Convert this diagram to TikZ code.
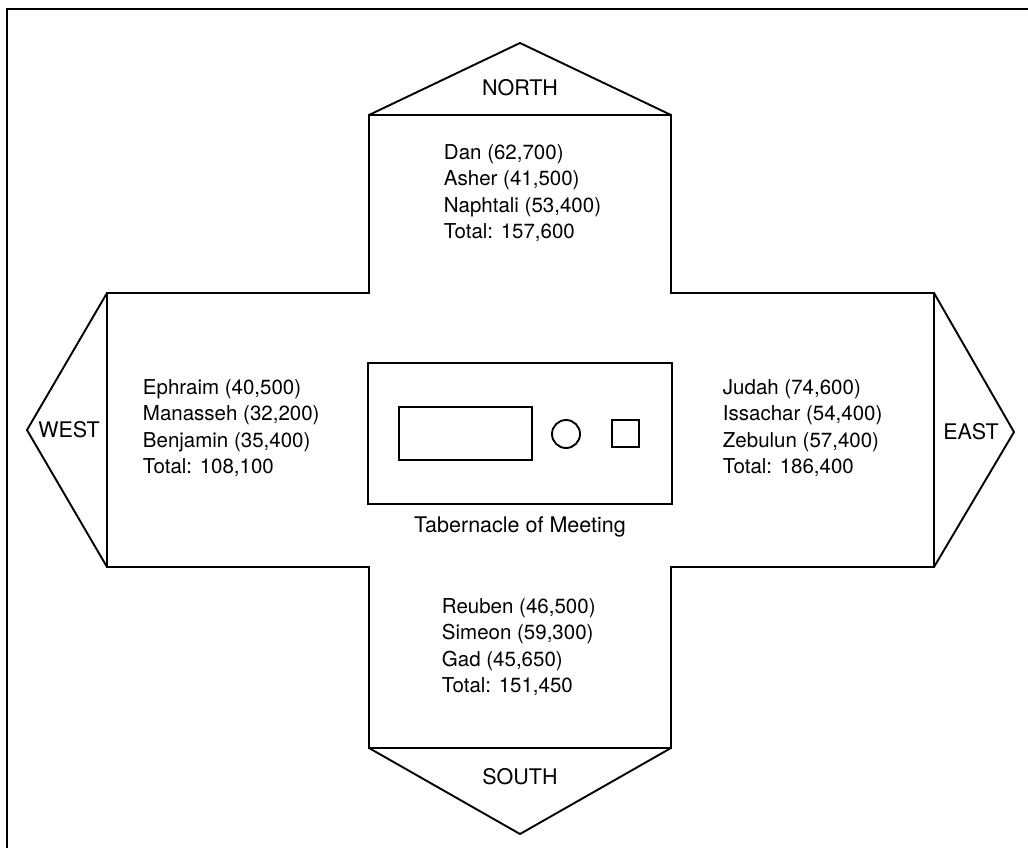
\documentclass[tikz,border=0pt]{standalone}
\usepackage{fontspec}
\setmainfont{TeX Gyre Heros}
\begin{document}
\begin{tikzpicture}[x=1pt,y=-1pt,line width=1.9pt,line join=miter,
  lbl/.style={inner sep=0pt,font=\fontsize{21.5}{26.5}\selectfont},
  tribe/.style={inner sep=0pt,font=\fontsize{20.5}{26.5}\selectfont,align=left,anchor=west}]
\useasboundingbox (0,0) rectangle (1028,848);
% frame (only top and left edges visible)
\draw (7,848) -- (7,9) -- (1028,9);
% cross outline
\coordinate (nw) at (369,115); \coordinate (ne) at (671,115);
\coordinate (en) at (934,293); \coordinate (es) at (934,567);
\coordinate (sw) at (369,748); \coordinate (se) at (671,748);
\coordinate (wn) at (107,293); \coordinate (ws) at (107,567);
\coordinate (napex) at (520,43); \coordinate (sapex) at (520,834);
\coordinate (wapex) at (27,430); \coordinate (eapex) at (1014,432);
\draw (nw) -- (ne) -- (ne |- en) -- (en) -- (es) -- (se |- es) -- (se) -- (sw)
  -- (sw |- ws) -- (ws) -- (wn) -- (nw |- wn) -- cycle;
\draw (nw) -- (napex) -- (ne);
\draw (sw) -- (sapex) -- (se);
\draw (wn) -- (wapex) -- (ws);
\draw (en) -- (eapex) -- (es);
% tabernacle
\draw (368,363) rectangle (672,504);
\draw (399,407) rectangle (532,460);
\draw (566,434) circle (14);
\draw (612,420) rectangle (639,447);
\node[lbl] (tab) at (520,527) {Tabernacle of Meeting};
% direction labels
\node[lbl] (north) at (520,88) {NORTH};
\node[lbl] (south) at (520,777) {SOUTH};
\node[lbl] (west) at (69,430) {WEST};
\node[lbl] (east) at (971,432) {EAST};
% tribes
\node[tribe] (ntr) at (443,193) {Dan (62,700)\\Asher (41,500)\\Naphtali (53,400)\\Total: 157,600};
\node[tribe] (wtr) at (142,428) {Ephraim (40,500)\\Manasseh (32,200)\\Benjamin (35,400)\\Total: 108,100};
\node[tribe] (etr) at (722,428) {Judah (74,600)\\Issachar (54,400)\\Zebulun (57,400)\\Total: 186,400};
\node[tribe] (str) at (441,647) {Reuben (46,500)\\Simeon (59,300)\\Gad (45,650)\\Total: 151,450};
\end{tikzpicture}
\end{document}
